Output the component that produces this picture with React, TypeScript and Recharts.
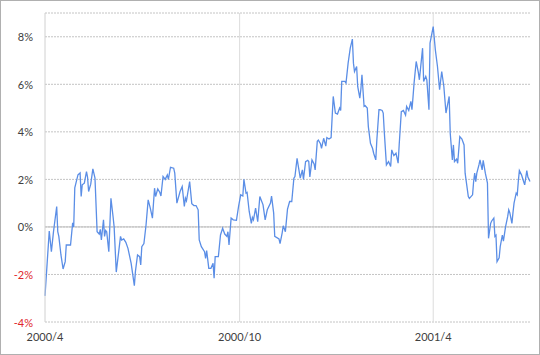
import React from "react";
import { LineChart, Line, XAxis, YAxis, CartesianGrid, ReferenceLine } from "recharts";

// days since 2000/4/1
const days = [
  0, 4, 6, 8, 11, 12, 13, 15, 17, 19, 20, 24, 26, 27, 28, 31, 33, 34, 35, 37, 39, 40, 41, 43, 45, 47, 49, 51, 52, 53,
  55, 56, 57, 58, 60, 62, 64, 65, 67, 71, 72, 74, 76, 78, 81, 84, 85, 87, 89, 90, 91, 93, 95, 97, 99, 101, 103, 104, 106, 108,
  109, 111, 113, 115, 116, 118, 121, 122, 124, 127, 129, 131, 132, 133, 136, 138, 140, 142, 144, 145, 147, 150, 151, 152, 154, 156, 158, 159, 160, 163,
  165, 167, 169, 171, 172, 173, 175, 177, 180, 182, 184, 186, 187, 189, 190, 192, 194, 195, 196, 198, 200, 202, 205, 207, 209, 212, 213, 215, 216, 220,
  221, 223, 224, 226, 228, 230, 232, 234, 235, 237, 238, 240, 242, 243, 245, 247, 248, 249, 251, 253, 254, 256, 257, 259, 260, 262, 264, 265, 267, 269,
  270, 271, 273, 275, 277, 278, 279, 282, 283, 285, 287, 289, 290, 291, 293, 294, 296, 297, 298, 300, 301, 303, 304, 306, 308, 309, 311, 312, 314, 315,
  317, 318, 319, 321, 323, 325, 326, 328, 330, 332, 333, 335, 337, 339, 340, 342, 344, 345, 346, 347, 349, 351, 352, 355, 356, 358, 359, 361, 362, 365,
  367, 369, 371, 373, 375, 377, 380, 381, 383, 384, 385, 387, 388, 390, 392, 394, 395, 398, 399, 402, 403, 404, 405, 406, 408, 409, 411, 412, 414, 416,
  417, 419, 420, 422, 423, 424, 425, 427, 428, 430, 431, 433, 435, 436, 437, 439, 440, 441, 443, 444, 445, 446, 448, 450, 451, 453, 454, 456,
];

// percent values
const values = [
  -2.9, -0.17, -1.04, -0.2, 0.86, -0.2, -0.4, -1.18, -1.77, -1.46, -0.76, -0.76, 0.17, 0.0, 1.64, 2.19, 2.27, 1.28, 1.77, 1.84, 2.33, 2.1, 1.49, 1.8, 2.44, 2.05, -0.2, -0.3, -0.1, -0.55,
  0.3, -0.4, -0.15, -0.2, -1.04, 1.2, 0.43, 0.0, -1.9, -0.4, -0.55, -0.5, -0.65, -0.9, -1.53, -2.47, -1.88, -1.18, -1.25, -1.6, -0.83, -0.7, 0.08, 1.14, 0.79, 0.37, 1.63, 1.28, 1.6, 1.45,
  1.3, 2.12, 2.0, 2.19, 2.0, 2.51, 2.47, 2.26, 1.0, 1.49, 1.7, 0.86, 1.21, 1.1, 1.91, 0.98, 0.9, 0.9, 0.72, -0.55, -0.83, -1.04, -1.32, -1.0, -1.74, -1.74, -1.53, -2.16, -1.25, -1.25,
  -0.34, -0.06, -0.3, -0.4, -0.2, -0.76, 0.37, 0.3, 0.28, 0.86, 1.35, 1.3, 2.0, 1.42, 1.45, 0.65, 0.15, 0.4, 0.3, 0.79, 0.22, 1.28, 0.93, 0.3, 0.72, 1.0, 1.3, 0.58, -0.4, -0.5,
  -0.7, -0.25, 0.05, -0.2, 0.75, 1.07, 1.07, 2.05, 2.12, 2.89, 2.6, 2.05, 2.4, 2.0, 2.75, 2.8, 2.75, 2.1, 2.82, 2.65, 2.4, 3.6, 3.65, 3.5, 3.31, 3.73, 3.4, 3.76, 3.7, 3.76,
  4.64, 5.49, 4.79, 4.75, 5.0, 4.9, 6.12, 6.12, 6.05, 6.89, 7.52, 7.9, 6.89, 6.54, 6.75, 5.91, 5.42, 5.8, 6.4, 5.07, 5.1, 5.0, 4.22, 3.52, 3.3, 3.1, 2.82, 3.66, 4.93, 4.93,
  4.9, 4.79, 4.0, 2.61, 2.75, 2.54, 3.24, 3.0, 3.1, 2.68, 3.45, 4.85, 4.9, 4.7, 5.07, 4.9, 5.28, 4.93, 5.46, 6.05, 6.96, 6.5, 6.19, 7.52, 6.12, 6.33, 6.19, 4.93, 7.73, 8.43,
  7.45, 6.75, 5.77, 6.54, 5.91, 4.79, 5.49, 3.94, 2.82, 3.45, 2.75, 2.85, 2.68, 3.8, 3.7, 3.45, 2.26, 1.28, 1.2, 1.35, 1.91, 2.26, 1.9, 2.26, 2.61, 2.82, 2.4, 2.8, 2.26, 1.84,
  -0.48, 0.15, 0.25, 0.37, -0.4, -0.35, -1.46, -1.3, -0.83, -0.34, -0.6, 0.0, 0.43, 0.72, 0.6, 0.15, 0.6, 1.0, 1.42, 1.35, 1.91, 2.37, 2.19, 1.91, 1.77, 2.37, 2.1, 1.91,
];

const xTicks = [0, 183, 365];
const xTickLabels = ["2000/4", "2000/10", "2001/4"];
const yTicks = [-4, -2, 0, 2, 4, 6, 8];

const data = days.map((d, i) => ({ d, v: values[i] }));

const FONT = "Lato, 'Open Sans', sans-serif";

const YTick = (props: any) => {
  const { x, y, payload } = props;
  const neg = payload.value < 0;
  return (
    <text
      x={x}
      y={y}
      textAnchor="end"
      dominantBaseline="central"
      fontSize={11}
      fontFamily={FONT}
      fill={neg ? "#e0262b" : "#404040"}
    >
      {payload.value}%
    </text>
  );
};

export default function App() {
  return (
    <div style={{ position: "absolute", left: 0, top: 0, width: 540, height: 355, background: "#fff" }}>
      <LineChart width={540} height={355} data={data} margin={{ top: 13, right: 10, left: 0, bottom: 8 }}>
        <CartesianGrid horizontal vertical={false} stroke="#c4c4c4" strokeDasharray="2 1" />
        <ReferenceLine x={183} stroke="#dcdcdc" />
        <ReferenceLine x={365} stroke="#dcdcdc" />
        <ReferenceLine y={0} stroke="#bdbdbd" />
        <XAxis
          type="number"
          dataKey="d"
          domain={[0, 456]}
          ticks={xTicks}
          tickFormatter={(v: number) => xTickLabels[xTicks.indexOf(v)] ?? ""}
          axisLine={false}
          tickLine={false}
          tickSize={0}
          tickMargin={11}
          height={25}
          interval={0}
          tick={{ fontSize: 11, fill: "#404040", fontFamily: FONT }}
        />
        <YAxis
          type="number"
          domain={[-4, 9]}
          ticks={yTicks}
          width={45}
          axisLine={{ stroke: "#d0d0d0" }}
          tickLine={false}
          tickSize={0}
          tickMargin={12}
          interval={0}
          tick={<YTick />}
          allowDataOverflow
        />
        <Line
          type="linear"
          dataKey="v"
          stroke="#5b8ee6"
          strokeWidth={1.3}
          dot={false}
          isAnimationActive={false}
        />
      </LineChart>
      <div
        style={{
          position: "absolute",
          left: 0,
          top: 0,
          width: 540,
          height: 355,
          boxSizing: "border-box",
          border: "1px solid #b0b0b0",
          pointerEvents: "none",
        }}
      />
    </div>
  );
}
